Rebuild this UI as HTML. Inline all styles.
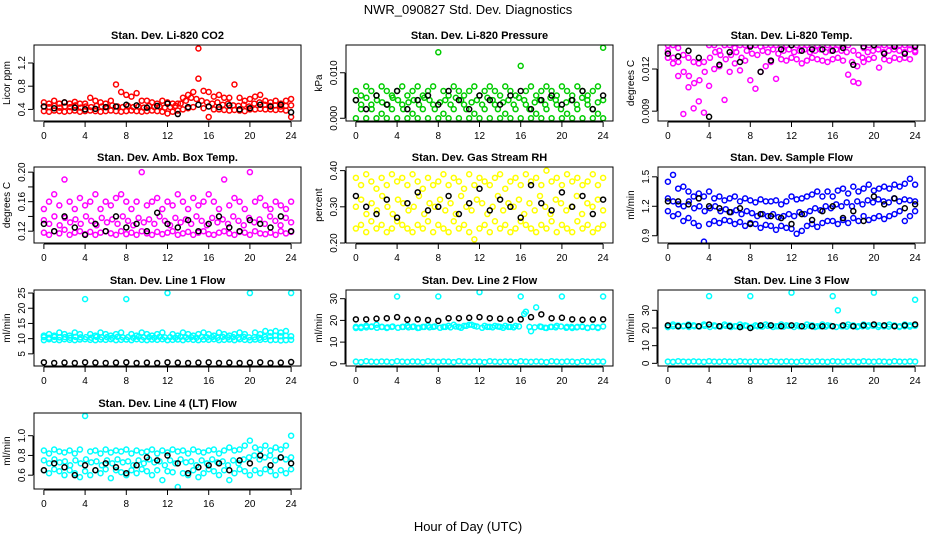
<!DOCTYPE html>
<html><head><meta charset="utf-8"><style>
body{margin:0;background:#fff;font-family:"Liberation Sans",sans-serif}
svg text{font-family:"Liberation Sans",sans-serif}
</style></head><body>
<svg id="c" width="936" height="540" xmlns="http://www.w3.org/2000/svg">
<text x="468" y="14" font-size="13" text-anchor="middle">NWR_090827 Std. Dev. Diagnostics</text>
<text x="468" y="531" font-size="13" text-anchor="middle">Hour of Day (UTC)</text>
</svg>
<script>
const co2Hi=[0.52,0.5,0.55,0.5,0.52,0.5,0.53,0.5,0.5,0.6,0.55,0.52,0.5,0.55,0.83,0.7,0.65,0.62,0.68,0.55,0.55,0.52,0.5,0.55,0.52,0.5,0.5,0.6,0.65,0.7,1.45,0.72,0.7,0.62,0.65,0.6,0.6,0.83,0.6,0.55,0.58,0.62,0.65,0.55,0.52,0.55,0.5,0.55,0.58];
const co2Mid=[0.45,0.44,0.46,0.43,0.45,0.44,0.47,0.43,0.45,0.44,0.46,0.45,0.44,0.47,0.45,0.44,0.46,0.44,0.45,0.43,0.46,0.44,0.45,0.43,0.44,0.46,0.5,0.55,0.6,0.58,0.55,0.52,0.5,0.52,0.48,0.5,0.47,0.46,0.48,0.45,0.5,0.52,0.48,0.46,0.47,0.45,0.46,0.47];
const co2Lo=[0.37,0.36,0.38,0.37,0.36,0.37,0.38,0.36,0.37,0.38,0.37,0.36,0.37,0.38,0.37,0.36,0.37,0.38,0.37,0.36,0.37,0.38,0.37,0.36,0.33,0.36,0.38,0.4,0.42,0.44,0.93,0.42,0.27,0.4,0.4,0.39,0.38,0.39,0.38,0.37,0.4,0.4,0.41,0.4,0.4,0.39,0.4,0.38,0.27];
const co2Blk=[0.45,0.42,0.52,0.43,0.4,0.41,0.44,0.45,0.48,0.47,0.43,0.46,0.5,0.32,0.44,0.48,0.45,0.44,0.47,0.4,0.42,0.48,0.45,0.48,0.35];
const presHi=[0.006,0.005,0.007,0.006,0.005,0.007,0.006,0.005,0.006,0.007,0.005,0.006,0.007,0.005,0.006,0.007,0.0145,0.006,0.005,0.007,0.006,0.005,0.006,0.007,0.005,0.006,0.007,0.006,0.005,0.007,0.006,0.005,0.0115,0.006,0.007,0.005,0.006,0.007,0.006,0.005,0.007,0.006,0.005,0.007,0.006,0.005,0.006,0.007,0.0155];
const presMid=[0.004,0.003,0.0045,0.002,0.004,0.0035,0.003,0.0045,0.004,0.002,0.0035,0.004,0.003,0.0045,0.004,0.002,0.0035,0.004,0.003,0.0045,0.004,0.002,0.0035,0.004,0.003,0.0045,0.004,0.002,0.0035,0.004,0.003,0.0045,0.004,0.002,0.0035,0.004,0.003,0.0045,0.004,0.002,0.0035,0.004,0.003,0.0045,0.004,0.002,0.0035,0.004];
const presLo=[0,0.002,0,0.003,0,0.001,0,0.002,0,0.003,0,0.001,0,0.002,0,0.003,0,0.001,0,0.002,0,0.003,0,0.001,0,0.002,0,0.003,0,0.001,0,0.002,0,0.003,0,0.001,0,0.002,0,0.003,0,0.001,0,0.002,0,0.003,0,0.001,0];
const presBlk=[0.004,0.002,0.005,0.003,0.006,0.002,0.004,0.005,0.003,0.006,0.004,0.002,0.005,0.004,0.003,0.005,0.006,0.002,0.004,0.005,0.003,0.004,0.006,0.002,0.005];
const tempHi=[0.0137,0.0137,0.0135,0.013,0.0128,0.0125,0.0124,0.0125,0.0137,0.0137,0.0133,0.0137,0.0137,0.0135,0.0137,0.0137,0.0137,0.0137,0.0136,0.0137,0.0137,0.0137,0.0137,0.0137,0.0137,0.0137,0.0137,0.0137,0.0137,0.0137,0.0137,0.0137,0.0137,0.0137,0.0137,0.0137,0.0133,0.013,0.0135,0.0137,0.0137,0.0137,0.0137,0.0137,0.0137,0.0137,0.0137,0.0137,0.0137];
const tempMid=[0.0133,0.0128,0.0125,0.0118,0.0115,0.011,0.0112,0.0118,0.0128,0.0132,0.013,0.0127,0.013,0.0132,0.0128,0.0133,0.0131,0.013,0.0133,0.0132,0.0134,0.0131,0.0133,0.0134,0.0132,0.0133,0.0134,0.0132,0.0133,0.0134,0.0132,0.0133,0.0134,0.0133,0.0132,0.0125,0.0122,0.0128,0.0132,0.0133,0.0134,0.0132,0.0133,0.0134,0.0133,0.0132,0.0134,0.0133];
const tempLo=[0.0128,0.0124,0.0115,0.0088,0.0107,0.0092,0.0097,0.0089,0.0108,0.012,0.0122,0.0098,0.0118,0.0124,0.0119,0.0126,0.0112,0.0106,0.0118,0.0122,0.0125,0.0113,0.0127,0.0126,0.0128,0.0127,0.0124,0.0126,0.0128,0.0127,0.0126,0.0125,0.0127,0.0128,0.0126,0.0116,0.0111,0.011,0.0125,0.0127,0.0128,0.0121,0.0127,0.0126,0.0128,0.0127,0.0128,0.0127,0.0132];
const tempBlk=[0.0131,0.0129,0.0133,0.0128,0.0086,0.0123,0.0132,0.0125,0.0136,0.0118,0.0126,0.0134,0.0137,0.0133,0.0134,0.0134,0.0133,0.0135,0.0123,0.0136,0.0137,0.0131,0.0136,0.0131,0.0136];
const ambHi=[0.15,0.16,0.17,0.155,0.19,0.16,0.15,0.165,0.155,0.16,0.17,0.15,0.16,0.155,0.165,0.17,0.16,0.15,0.16,0.2,0.155,0.16,0.165,0.15,0.16,0.155,0.17,0.16,0.15,0.165,0.155,0.16,0.17,0.16,0.15,0.19,0.155,0.165,0.16,0.15,0.2,0.16,0.165,0.155,0.15,0.16,0.155,0.15,0.16];
const ambMid=[0.135,0.13,0.14,0.128,0.138,0.132,0.136,0.13,0.14,0.134,0.128,0.138,0.132,0.136,0.13,0.14,0.134,0.128,0.138,0.132,0.136,0.13,0.14,0.134,0.128,0.138,0.132,0.136,0.13,0.14,0.134,0.128,0.138,0.132,0.136,0.13,0.14,0.134,0.128,0.138,0.132,0.136,0.13,0.14,0.134,0.128,0.138,0.132];
const ambLo=[0.118,0.115,0.12,0.117,0.122,0.115,0.118,0.12,0.116,0.119,0.115,0.118,0.12,0.117,0.115,0.12,0.116,0.118,0.115,0.12,0.117,0.115,0.119,0.116,0.118,0.12,0.115,0.117,0.119,0.115,0.118,0.12,0.116,0.115,0.118,0.12,0.117,0.115,0.119,0.118,0.115,0.12,0.117,0.116,0.118,0.115,0.12,0.117,0.119];
const ambBlk=[0.13,0.12,0.14,0.125,0.115,0.13,0.12,0.14,0.125,0.13,0.12,0.145,0.13,0.125,0.135,0.12,0.13,0.14,0.125,0.12,0.135,0.13,0.125,0.14,0.12];
const rhHi=[0.38,0.36,0.39,0.37,0.35,0.38,0.36,0.39,0.37,0.38,0.36,0.39,0.37,0.35,0.38,0.36,0.37,0.39,0.36,0.38,0.37,0.35,0.39,0.36,0.38,0.37,0.36,0.38,0.39,0.35,0.37,0.38,0.36,0.39,0.37,0.38,0.36,0.4,0.37,0.38,0.36,0.39,0.37,0.38,0.36,0.37,0.39,0.36,0.38];
const rhMid=[0.3,0.32,0.28,0.31,0.29,0.33,0.3,0.28,0.32,0.31,0.29,0.3,0.33,0.28,0.31,0.3,0.32,0.29,0.31,0.28,0.33,0.3,0.29,0.32,0.31,0.28,0.3,0.33,0.29,0.31,0.3,0.32,0.28,0.31,0.29,0.33,0.3,0.28,0.32,0.31,0.29,0.3,0.33,0.28,0.31,0.3,0.32,0.29];
const rhLo=[0.24,0.25,0.23,0.26,0.24,0.25,0.23,0.24,0.26,0.25,0.24,0.23,0.25,0.24,0.26,0.23,0.25,0.24,0.23,0.26,0.24,0.25,0.23,0.21,0.24,0.25,0.23,0.26,0.24,0.25,0.23,0.24,0.26,0.25,0.24,0.23,0.25,0.24,0.26,0.23,0.25,0.24,0.23,0.26,0.24,0.25,0.23,0.24,0.25];
const rhBlk=[0.33,0.3,0.28,0.32,0.27,0.31,0.34,0.29,0.3,0.33,0.28,0.31,0.35,0.29,0.32,0.3,0.27,0.36,0.31,0.29,0.34,0.3,0.33,0.28,0.32];
const flowHi=[1.45,1.52,1.38,1.4,1.35,1.3,1.33,1.3,1.35,1.28,1.3,1.26,1.28,1.3,1.25,1.28,1.26,1.24,1.27,1.25,1.25,1.26,1.22,1.25,1.3,1.27,1.28,1.3,1.32,1.35,1.3,1.35,1.3,1.36,1.38,1.33,1.4,1.35,1.38,1.42,1.36,1.38,1.4,1.38,1.42,1.4,1.43,1.48,1.42];
const flowMid=[1.28,1.25,1.22,1.2,1.25,1.18,1.2,1.15,1.18,1.2,1.15,1.17,1.14,1.16,1.12,1.15,1.13,1.1,1.12,1.1,1.12,1.09,1.1,1.12,1.1,1.14,1.12,1.15,1.18,1.16,1.2,1.18,1.22,1.2,1.24,1.2,1.25,1.22,1.26,1.24,1.27,1.25,1.24,1.28,1.25,1.27,1.26,1.25];
const flowLo=[1.15,1.1,1.12,1.05,1.08,1.03,1.0,0.84,1.02,1.05,1.03,1.06,1.05,1.02,1.04,1.0,1.03,1.02,0.98,1.01,1.0,0.96,1.0,0.98,0.97,0.92,0.95,1.0,1.02,0.99,1.03,1.05,1.05,1.02,1.06,1.03,1.08,1.05,1.1,1.06,1.08,1.1,1.07,1.1,1.12,1.15,1.05,1.1,1.15];
const flowBlk=[1.25,1.25,1.22,1.28,1.2,1.18,1.14,1.18,1.02,1.12,1.1,1.08,1.02,1.12,1.06,1.15,1.2,1.08,1.15,1.05,1.3,1.22,1.28,1.18,1.22];
const l1Hi=[11,11.5,11,12,11.5,11,12,11.5,23,11.5,11,12,11.5,11,11.5,12,23,11.5,11,12,11.5,11,11.5,12,25,11.5,11,12,11.5,11,11.5,12,11.5,11,12,11.5,11,11.5,12,11.5,25,12,11.5,12.5,12,12.5,12,12.5,25];
const l1Mid=[10.5,10.3,10.6,10.4,10.5,10.3,10.6,10.4,10.5,10.3,10.6,10.4,10.5,10.3,10.6,10.4,10.5,10.3,10.6,10.4,10.5,10.3,10.6,10.4,10.5,10.3,10.6,10.4,10.5,10.3,10.6,10.4,10.5,10.3,10.6,10.4,10.5,10.3,10.6,10.4,10.5,10.3,10.6,10.8,11,10.8,11,10.8];
const l1Lo=[9.5,9.8,9.6,9.5,9.8,9.6,9.5,9.7,9.8,9.6,9.5,9.7,9.6,9.8,9.5,9.6,9.7,9.5,9.8,9.6,9.5,9.7,9.6,9.8,9.5,9.6,9.7,9.5,9.8,9.6,9.5,9.7,9.6,9.8,9.5,9.6,9.7,9.5,9.8,9.6,9.5,9.7,9.6,9.8,9.5,9.6,9.4,9.5,9.6];
const l1Blk=[2.2,2,2.1,2,2.2,2.1,2,2.1,2.2,2,2.1,2,2.2,2.1,2,2.1,2.2,2,2.1,2,2.1,2.2,2,2.1,2.3];
const l2Band=[17,16.5,17.5,17,18,17,16.5,17,31,17,17.5,17,16.5,17,17.5,17,31,17,17.5,18,17,17.5,18,17.5,33,17.5,17,17.5,17,17.5,17,17.5,31,24,15,26,17,16.5,17,17.5,31,17,16.5,17,17,16.5,17,16.5,31];
const l2Mid=[16.5,17,16.8,17.2,16.6,17,16.8,17.2,16.6,17,16.8,17.2,16.6,17,16.8,17.2,16.6,17,16.8,17.2,16.6,17.5,18,17.2,16.6,17,16.8,17.2,16.6,17,16.8,17.2,23,17,16.8,17.2,16.6,17,16.8,17.2,16.6,17,16.8,17.2,16.6,17,16.8,17.2];
const l2Low=[1,0.8,1.2,1,0.9,1.1,1,0.8,1.2,1,0.9,1.1,1,0.8,1.2,1,0.9,1.1,1,0.8,1.2,1,0.9,1.1,1,0.8,1.2,1,0.9,1.1,1,0.8,1.2,1,0.9,1.1,1,0.8,1.2,1,0.9,1.1,1,0.8,1.2,1,0.9,1.1,1];
const l2Blk=[20.5,20.5,20.8,21,21.5,20.3,20.5,20.2,19.8,21,21,21.2,21.5,21,20.8,20.3,20.5,21.5,22.8,21,21.2,20.5,20.3,20.4,20.5];
const l3Band=[21,22,21.5,21,22,21.5,21,22,38,21.5,21,22,21.5,21,22,21.5,38,21.5,21,22,21.5,21,22,21.5,40,21.5,21,22,21.5,21,22,21.5,38,30,21,22,21.5,21,22,21.5,40,21.5,21,22,21.5,21,22,21.5,36];
const l3Mid=[20.5,21,20.8,21.2,20.6,21,20.8,21.2,20.6,21,20.8,21.2,20.6,21,20.8,21.2,20.6,21,20.8,21.2,20.6,21,20.8,21.2,20.6,21,20.8,21.2,20.6,21,20.8,21.2,20.6,21,20.8,21.2,20.6,21,20.8,21.2,20.6,21,20.8,21.2,20.6,21,20.8,21.2];
const l3Low=[1,0.8,1.2,1,0.9,1.1,1,0.8,1.2,1,0.9,1.1,1,0.8,1.2,1,0.9,1.1,1,0.8,1.2,1,0.9,1.1,1,0.8,1.2,1,0.9,1.1,1,0.8,1.2,1,0.9,1.1,1,0.8,1.2,1,0.9,1.1,1,0.8,1.2,1,0.9,1.1,1];
const l3Blk=[21.5,21,21.5,21,22,21,21,20.5,20,21.5,21.5,21,21.5,21,21,21,21,21.5,21,21.5,22,21.5,21,21.5,22];
const l4Hi=[0.85,0.82,0.86,0.84,0.83,0.85,0.82,0.86,1.2,0.84,0.85,0.82,0.86,0.83,0.85,0.84,0.86,0.82,0.85,0.83,0.84,0.86,0.82,0.85,0.83,0.86,0.84,0.85,0.82,0.86,0.84,0.83,0.85,0.86,0.82,0.85,0.88,0.85,0.86,0.9,0.95,0.88,0.86,0.9,0.85,0.88,0.86,0.9,1.0];
const l4Mid=[0.75,0.72,0.76,0.73,0.74,0.7,0.75,0.72,0.76,0.73,0.74,0.7,0.75,0.72,0.76,0.73,0.74,0.7,0.75,0.72,0.76,0.73,0.74,0.7,0.75,0.72,0.76,0.73,0.74,0.7,0.75,0.72,0.76,0.73,0.74,0.7,0.75,0.72,0.76,0.78,0.8,0.76,0.78,0.8,0.75,0.78,0.76,0.78];
const l4Lo=[0.65,0.62,0.66,0.64,0.6,0.65,0.62,0.58,0.64,0.6,0.65,0.62,0.66,0.57,0.65,0.63,0.6,0.65,0.62,0.66,0.64,0.6,0.65,0.55,0.64,0.63,0.48,0.62,0.6,0.65,0.58,0.62,0.66,0.64,0.6,0.65,0.55,0.62,0.66,0.64,0.6,0.65,0.62,0.66,0.64,0.6,0.65,0.62,0.66];
const l4Blk=[0.65,0.72,0.68,0.6,0.7,0.65,0.72,0.68,0.62,0.7,0.78,0.75,0.8,0.72,0.62,0.68,0.7,0.72,0.65,0.75,0.72,0.8,0.7,0.78,0.72];

const xTicks=[0,4,8,12,16,20,24];
const panels=[
 {name:'li820-co2',title:'Stan. Dev. Li-820 CO2',yl:'Licor ppm',ylim:[0.2,1.51],ticks:['0.4','0.8','1.2'],s:[[co2Hi,'#f00'],[co2Mid,'#f00'],[co2Lo,'#f00'],[co2Blk,'#000']]},
 {name:'li820-pressure',title:'Stan. Dev. Li-820 Pressure',yl:'kPa',ylim:[-0.0006,0.0161],ticks:['0.000','0.010'],s:[[presHi,'#0c0'],[presMid,'#0c0'],[presLo,'#0c0'],[presBlk,'#000']]},
 {name:'li820-temp',title:'Stan. Dev. Li-820 Temp.',yl:'degrees C',ylim:[0.0083,0.01371],ticks:['0.009','0.012'],s:[[tempHi,'#f0f'],[tempMid,'#f0f'],[tempLo,'#f0f'],[tempBlk,'#000']]},
 {name:'amb-box-temp',title:'Stan. Dev. Amb. Box Temp.',yl:'degrees C',ylim:[0.104,0.207],ticks:['0.12','0.14','0.16','0.18','0.20'],hide:[1,3],s:[[ambHi,'#f0f'],[ambMid,'#f0f'],[ambLo,'#f0f'],[ambBlk,'#000']]},
 {name:'gas-stream-rh',title:'Stan. Dev. Gas Stream RH',yl:'percent',ylim:[0.2,0.41],ticks:['0.20','0.30','0.40'],s:[[rhHi,'#ff0'],[rhMid,'#ff0'],[rhLo,'#ff0'],[rhBlk,'#000']]},
 {name:'sample-flow',title:'Stan. Dev. Sample Flow',yl:'ml/min',ylim:[0.826,1.6],ticks:['0.9','1.2','1.5'],s:[[flowHi,'#00f'],[flowMid,'#00f'],[flowLo,'#00f'],[flowBlk,'#000']]},
 {name:'line1-flow',title:'Stan. Dev. Line 1 Flow',yl:'ml/min',ylim:[1,26],ticks:['5','10','15','20','25'],s:[[l1Hi,'#0ff'],[l1Mid,'#0ff'],[l1Lo,'#0ff'],[l1Blk,'#000']]},
 {name:'line2-flow',title:'Stan. Dev. Line 2 Flow',yl:'ml/min',ylim:[-1,34],ticks:['0','10','20','30'],s:[[l2Band,'#0ff'],[l2Mid,'#0ff'],[l2Low,'#0ff'],[l2Blk,'#000']]},
 {name:'line3-flow',title:'Stan. Dev. Line 3 Flow',yl:'ml/min',ylim:[-1.5,41.5],ticks:['0','10','20','30'],s:[[l3Band,'#0ff'],[l3Mid,'#0ff'],[l3Low,'#0ff'],[l3Blk,'#000']]},
 {name:'line4-flow',title:'Stan. Dev. Line 4 (LT) Flow',yl:'ml/min',ylim:[0.46,1.23],ticks:['0.6','0.8','1.0'],s:[[l4Hi,'#0ff'],[l4Mid,'#0ff'],[l4Lo,'#0ff'],[l4Blk,'#000']]}
];
const NS='http://www.w3.org/2000/svg';
const svg=document.getElementById('c');
function mk(t,a,p){const e=document.createElementNS(NS,t);for(const k in a)e.setAttribute(k,a[k]);(p||svg).appendChild(e);return e;}
const lefts=[34,346,658],tops=[45,167,290,413],W=267,H=76;
panels.forEach((p,i)=>{
 const L=lefts[i%3],T=tops[Math.floor(i/3)];
 const g=mk('g',{});
 
 
 const xs=v=>L+W*(v+0.96)/25.92;
 const ys=v=>T+H-H*(v-p.ylim[0])/(p.ylim[1]-p.ylim[0]);
 const cp=mk('clipPath',{id:'cp'+i},g);mk('rect',{x:L,y:T,width:W,height:H},cp);
 const tt=mk('text',{x:L+W/2,y:T-6,'font-size':11,'font-weight':'bold','text-anchor':'middle'},g);tt.textContent=p.title;
 
 
 const pts=mk('g',{'clip-path':'url(#cp'+i+')',fill:'none','stroke-width':1.5},g);
 p.s.forEach(([vals,col])=>{
  vals.forEach((v,j)=>{
   const c=mk('circle',{cx:xs(j*24/(vals.length-1)),cy:ys(v),r:2.5,stroke:col},pts);
   
   
  });
 });
 mk('rect',{x:L,y:T,width:W,height:H,fill:'none',stroke:'#000','stroke-width':1},g);
 const xa=mk('g',{},g);
 
 
 mk('line',{x1:xs(0),x2:xs(24),y1:T+H+1,y2:T+H+1,stroke:'#000'},xa);
 xTicks.forEach(t=>{mk('line',{x1:xs(t),x2:xs(t),y1:T+H+1,y2:T+H+6,stroke:'#000'},xa);
  const tx=mk('text',{x:xs(t),y:T+H+18,'font-size':10,'text-anchor':'middle'},xa);tx.textContent=t;});
 const ya=mk('g',{},g);
 
 
 const tv=p.ticks.map(Number);
 mk('line',{x1:L-1,x2:L-1,y1:ys(tv[0]),y2:ys(tv[tv.length-1]),stroke:'#000'},ya);
 p.ticks.forEach((t,k)=>{const y=ys(+t);mk('line',{x1:L-6,x2:L-1,y1:y,y2:y,stroke:'#000'},ya);
  if(p.hide&&p.hide.includes(k))return;
  const tx=mk('text',{x:L-9,y:y,'font-size':10,'text-anchor':'middle',transform:`rotate(-90 ${L-9} ${y})`},ya);tx.textContent=t;});
 const yl=mk('text',{x:L-24,y:T+H/2,'font-size':10,'text-anchor':'middle',transform:`rotate(-90 ${L-24} ${T+H/2})`},g);yl.textContent=p.yl;
 
 
});
</script>
</body></html>
